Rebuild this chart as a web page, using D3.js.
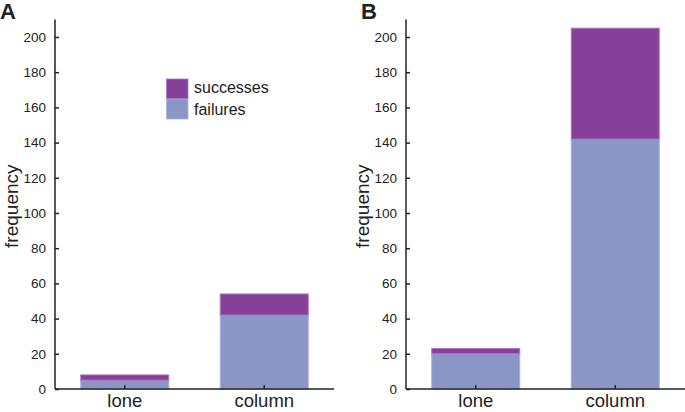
<!DOCTYPE html>
<html><head><meta charset="utf-8">
<script src="https://cdn.jsdelivr.net/npm/d3@7"></script>
<style>body{margin:0;background:#fff}svg{display:block}text{font-family:"Liberation Sans",Arial,sans-serif;fill:#222}</style>
</head><body><svg id="c" width="685" height="412"></svg>
<script>
const categories = ["lone", "column"];
const panelLabels = ["A", "B"];
const failuresA = [5, 42];
const successesA = [3, 12];
const failuresB = [20, 142];
const successesB = [3, 63];
const yTicks = [0, 20, 40, 60, 80, 100, 120, 140, 160, 180, 200];
const seriesNames = ["successes", "failures"];
const colors = {successes: "#874099", failures: "#8a96c6"};
const strokes = {successes: "#a878c0", failures: "#a9b2dc"};

const svg = d3.select("#c");
const panels = [
  {label: panelLabels[0], fail: failuresA, succ: successesA, x0: 55, lx: 0, ly: 19, legend: true},
  {label: panelLabels[1], fail: failuresB, succ: successesB, x0: 406, lx: 361, ly: 19, legend: false}
];
const W = 279, yTop = 19.4, yBot = 389;

panels.forEach(p => {
  const g = svg.append("g");
  const x = d3.scaleBand().domain(categories).range([p.x0, p.x0 + W]).paddingInner(0.362).paddingOuter(0.181);
  const y = d3.scaleLinear().domain([0, 210]).range([yBot, yTop]);
  const rows = categories.map((c, i) => ({cat: c, failures: p.fail[i], successes: p.succ[i]}));
  const stacked = d3.stack().keys(["failures", "successes"])(rows);
  stacked.forEach(s => {
    g.selectAll(null).data(s).join("rect")
      .attr("x", d => x(d.data.cat) + 0.5)
      .attr("width", x.bandwidth() - 1)
      .attr("y", d => y(d[1]))
      .attr("height", d => y(d[0]) - y(d[1]))
      .attr("fill", colors[s.key])
      .attr("stroke", strokes[s.key]).attr("stroke-width", 1);
  });
  const ya = g.append("g").attr("transform", `translate(${p.x0},0)`)
    .call(d3.axisLeft(y).tickValues(yTicks).tickSize(-4).tickPadding(9));
  ya.select(".domain").attr("d", `M0,${yTop}V${yBot}`);
  const xa = g.append("g").attr("transform", `translate(0,${yBot})`)
    .call(d3.axisBottom(x).tickSize(-4).tickPadding(5));
  xa.select(".domain").attr("d", `M${p.x0},0H${p.x0 + W}`);
  [ya, xa].forEach(a => {
    a.select(".domain").attr("stroke", "#222").attr("stroke-width", 1.5);
    a.selectAll(".tick line").attr("stroke", "#222").attr("stroke-width", 1.5);
  });
  ya.selectAll(".tick text").attr("font-size", 13.5).attr("fill", "#222").attr("font-family", "Liberation Sans, Arial, sans-serif");
  xa.selectAll(".tick text").attr("font-size", 18.5).attr("fill", "#222").attr("font-family", "Liberation Sans, Arial, sans-serif");
  g.append("text").attr("transform", `translate(${p.x0 - 37},${(yTop + yBot) / 2 + 2}) rotate(-90)`)
    .attr("text-anchor", "middle").attr("font-size", 19).text("frequency");
  g.append("text").attr("x", p.lx).attr("y", p.ly).attr("font-size", 22).attr("font-weight", "bold").attr("fill", "#111").text(p.label);
  if (p.legend) {
    const lg = g.append("g");
    seriesNames.forEach((n, i) => {
      lg.append("rect").attr("x", 166.5).attr("y", 79 + i * 20).attr("width", 21.5).attr("height", 20)
        .attr("fill", colors[n]).attr("stroke", strokes[n]).attr("stroke-width", 0.8);
      lg.append("text").attr("x", 194).attr("y", 93 + i * 22).attr("font-size", 16).text(n);
    });
  }
});
</script></body></html>
